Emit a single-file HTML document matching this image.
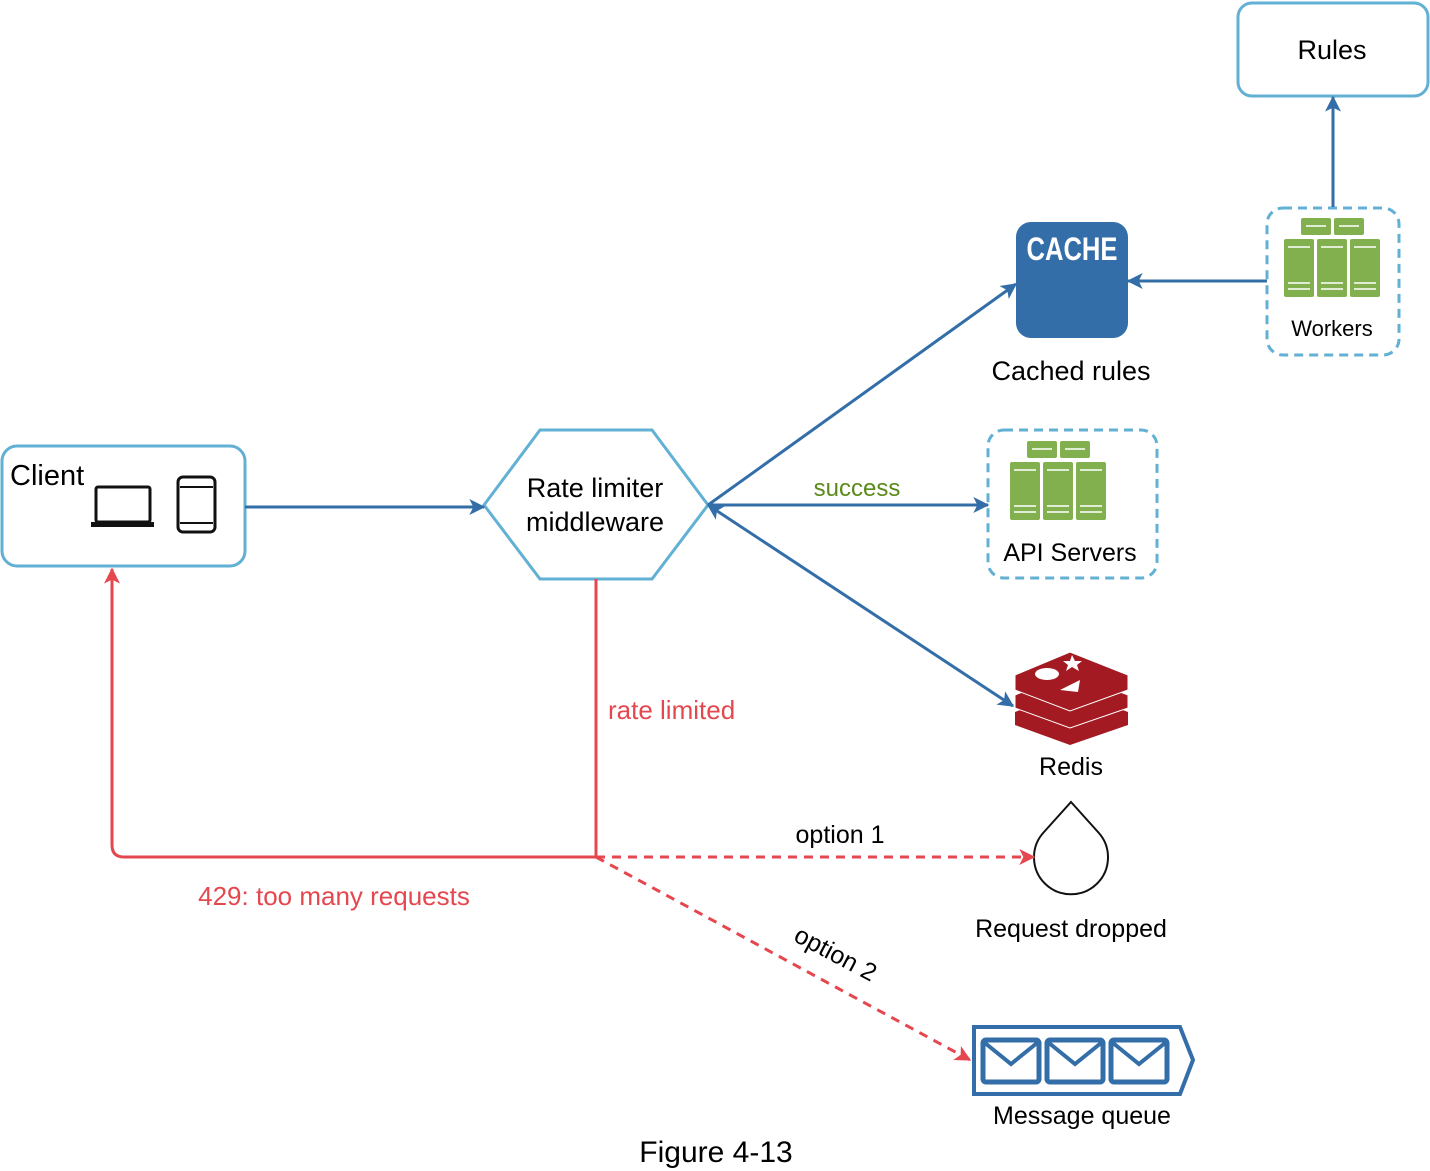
<!DOCTYPE html>
<html><head><meta charset="utf-8"><style>html,body{margin:0;padding:0;background:#fff}svg{display:block}text{font-family:"Liberation Sans",sans-serif}</style></head>
<body>
<svg width="1430" height="1171" viewBox="0 0 1430 1171" xmlns="http://www.w3.org/2000/svg">
<defs>
<marker id="ab" viewBox="0 0 12 12" refX="11" refY="6" markerWidth="20" markerHeight="16" orient="auto-start-reverse" markerUnits="userSpaceOnUse"><path d="M0,0 L12,6 L0,12 L3,6 Z" fill="#336ea9"/></marker>
<marker id="ar" viewBox="0 0 12 12" refX="11" refY="6" markerWidth="20" markerHeight="16" orient="auto" markerUnits="userSpaceOnUse"><path d="M0,0 L12,6 L0,12 L3,6 Z" fill="#e5474f"/></marker>
<g id="srv">
<rect x="17" y="0" width="30" height="17" rx="2" fill="#82b04f"/><rect x="50" y="0" width="30" height="17" rx="2" fill="#82b04f"/>
<rect x="0" y="21" width="30" height="58" rx="2" fill="#82b04f"/><rect x="33" y="21" width="30" height="58" rx="2" fill="#82b04f"/><rect x="66" y="21" width="30" height="58" rx="2" fill="#82b04f"/>
<g stroke="#fff" stroke-width="1.5"><path d="M22 8h20M55 8h20M4 29h22M37 29h22M70 29h22M4 65h22M37 65h22M70 65h22M4 71h22M37 71h22M70 71h22"/></g>
</g>
</defs>
<g fill="none" stroke-width="3">
<rect x="1238" y="3" width="190" height="93" rx="14" stroke="#62b0d3"/>
<rect x="1267" y="208" width="132" height="147" rx="16" stroke="#62b0d3" stroke-dasharray="9,6"/>
<rect x="988" y="430" width="169" height="148" rx="16" stroke="#62b0d3" stroke-dasharray="9,6"/>
<rect x="2" y="446" width="243" height="120" rx="15" stroke="#62b0d3"/>
<polygon points="484,505 540,430 652,430 708,505 652,579 540,579" stroke="#62b0d3"/>
</g>
<text x="1332" y="59" font-size="27" text-anchor="middle">Rules</text>
<use href="#srv" x="1284" y="218"/>
<text x="1332" y="336" font-size="22" text-anchor="middle">Workers</text>
<use href="#srv" x="1010" y="441"/>
<text x="1070" y="561" font-size="25" text-anchor="middle">API Servers</text>
<rect x="1016" y="222" width="112" height="116" rx="15" fill="#336ea9"/>
<text x="1072" y="260" font-size="32" font-weight="bold" fill="#fff" text-anchor="middle" transform="translate(1072 0) scale(0.8 1) translate(-1072 0)">CACHE</text>
<text x="1071" y="380" font-size="27" text-anchor="middle">Cached rules</text>
<g fill="#a41a22">
<path d="M1015,712 L1070,690 L1128,712 L1128,725 L1070,745 L1015,725Z"/>
<path d="M1015,695 L1070,673 L1128,695 L1128,708 L1070,728 L1015,708Z" stroke="#fff" stroke-width="1"/>
<path d="M1015,675 L1070,652 L1128,675 L1128,690 L1070,711 L1015,690Z" stroke="#fff" stroke-width="1"/>
</g>
<ellipse cx="1047" cy="674" rx="12" ry="6" fill="#fff"/>
<path d="M1060,690 L1080,680 L1078,692Z" fill="#fff"/>
<path d="M1072,655 l3,6 l7,0 l-5,4 l2,6 l-7,-4 l-6,4 l2,-6 l-5,-4 l7,0z" fill="#fff"/>
<text x="1071" y="775" font-size="25" text-anchor="middle">Redis</text>
<path d="M1071,802 L1098,832 A37,37 0 1 1 1044,832 Z" fill="#fff" stroke="#111" stroke-width="2"/>
<text x="1071" y="937" font-size="25" text-anchor="middle">Request dropped</text>
<path d="M974,1027 L1180,1027 L1193,1060 L1180,1094 L974,1094 Z" fill="none" stroke="#336ea9" stroke-width="4"/>
<g fill="none" stroke="#336ea9" stroke-width="5">
<rect x="983" y="1040" width="56" height="42" rx="3"/><rect x="1047" y="1040" width="56" height="42" rx="3"/><rect x="1111" y="1040" width="56" height="42" rx="3"/>
<path d="M985,1043 L1011,1064 L1037,1043 M1049,1043 L1075,1064 L1101,1043 M1113,1043 L1139,1064 L1165,1043" stroke-width="4"/>
</g>
<text x="1082" y="1124" font-size="25" text-anchor="middle">Message queue</text>
<text x="716" y="1162" font-size="30" text-anchor="middle">Figure 4-13</text>
<text x="10" y="485" font-size="29">Client</text>
<rect x="96" y="487" width="54" height="35" rx="2" fill="none" stroke="#111" stroke-width="3"/>
<rect x="91" y="522" width="63" height="5" fill="#111"/>
<rect x="178" y="477" width="37" height="55" rx="5" fill="none" stroke="#111" stroke-width="3"/>
<path d="M180,487h33M180,523h33" stroke="#111" stroke-width="2"/>
<text x="595" y="497" font-size="27" text-anchor="middle">Rate limiter</text>
<text x="595" y="531" font-size="27" text-anchor="middle">middleware</text>
<g stroke="#336ea9" stroke-width="3" fill="none">
<line x1="1333" y1="207" x2="1333" y2="97" marker-end="url(#ab)"/>
<line x1="1267" y1="281" x2="1128" y2="281" marker-end="url(#ab)"/>
<line x1="245" y1="507" x2="484" y2="507" marker-end="url(#ab)"/>
<line x1="708" y1="505" x2="1016" y2="284" marker-end="url(#ab)"/>
<line x1="710" y1="505" x2="988" y2="505" marker-end="url(#ab)"/>
<line x1="708" y1="505" x2="1013" y2="706" marker-start="url(#ab)" marker-end="url(#ab)"/>
</g>
<text x="857" y="496" font-size="24" fill="#5a8a1a" text-anchor="middle">success</text>
<g stroke="#e5474f" stroke-width="3" fill="none">
<path d="M596,579 L596,857 L124,857 Q112,857 112,845 L112,569" marker-end="url(#ar)"/>
<path d="M596,857 L1034,857" stroke-dasharray="9,7" marker-end="url(#ar)"/>
<path d="M596,857 L970,1060" stroke-dasharray="9,7" marker-end="url(#ar)"/>
</g>
<text x="608" y="719" font-size="26" fill="#e5474f">rate limited</text>
<text x="334" y="905" font-size="26" fill="#e5474f" text-anchor="middle">429: too many requests</text>
<text x="840" y="843" font-size="25" text-anchor="middle">option 1</text>
<text x="835" y="962" font-size="25" text-anchor="middle" transform="rotate(28 835 955)">option 2</text>
</svg>
</body></html>
